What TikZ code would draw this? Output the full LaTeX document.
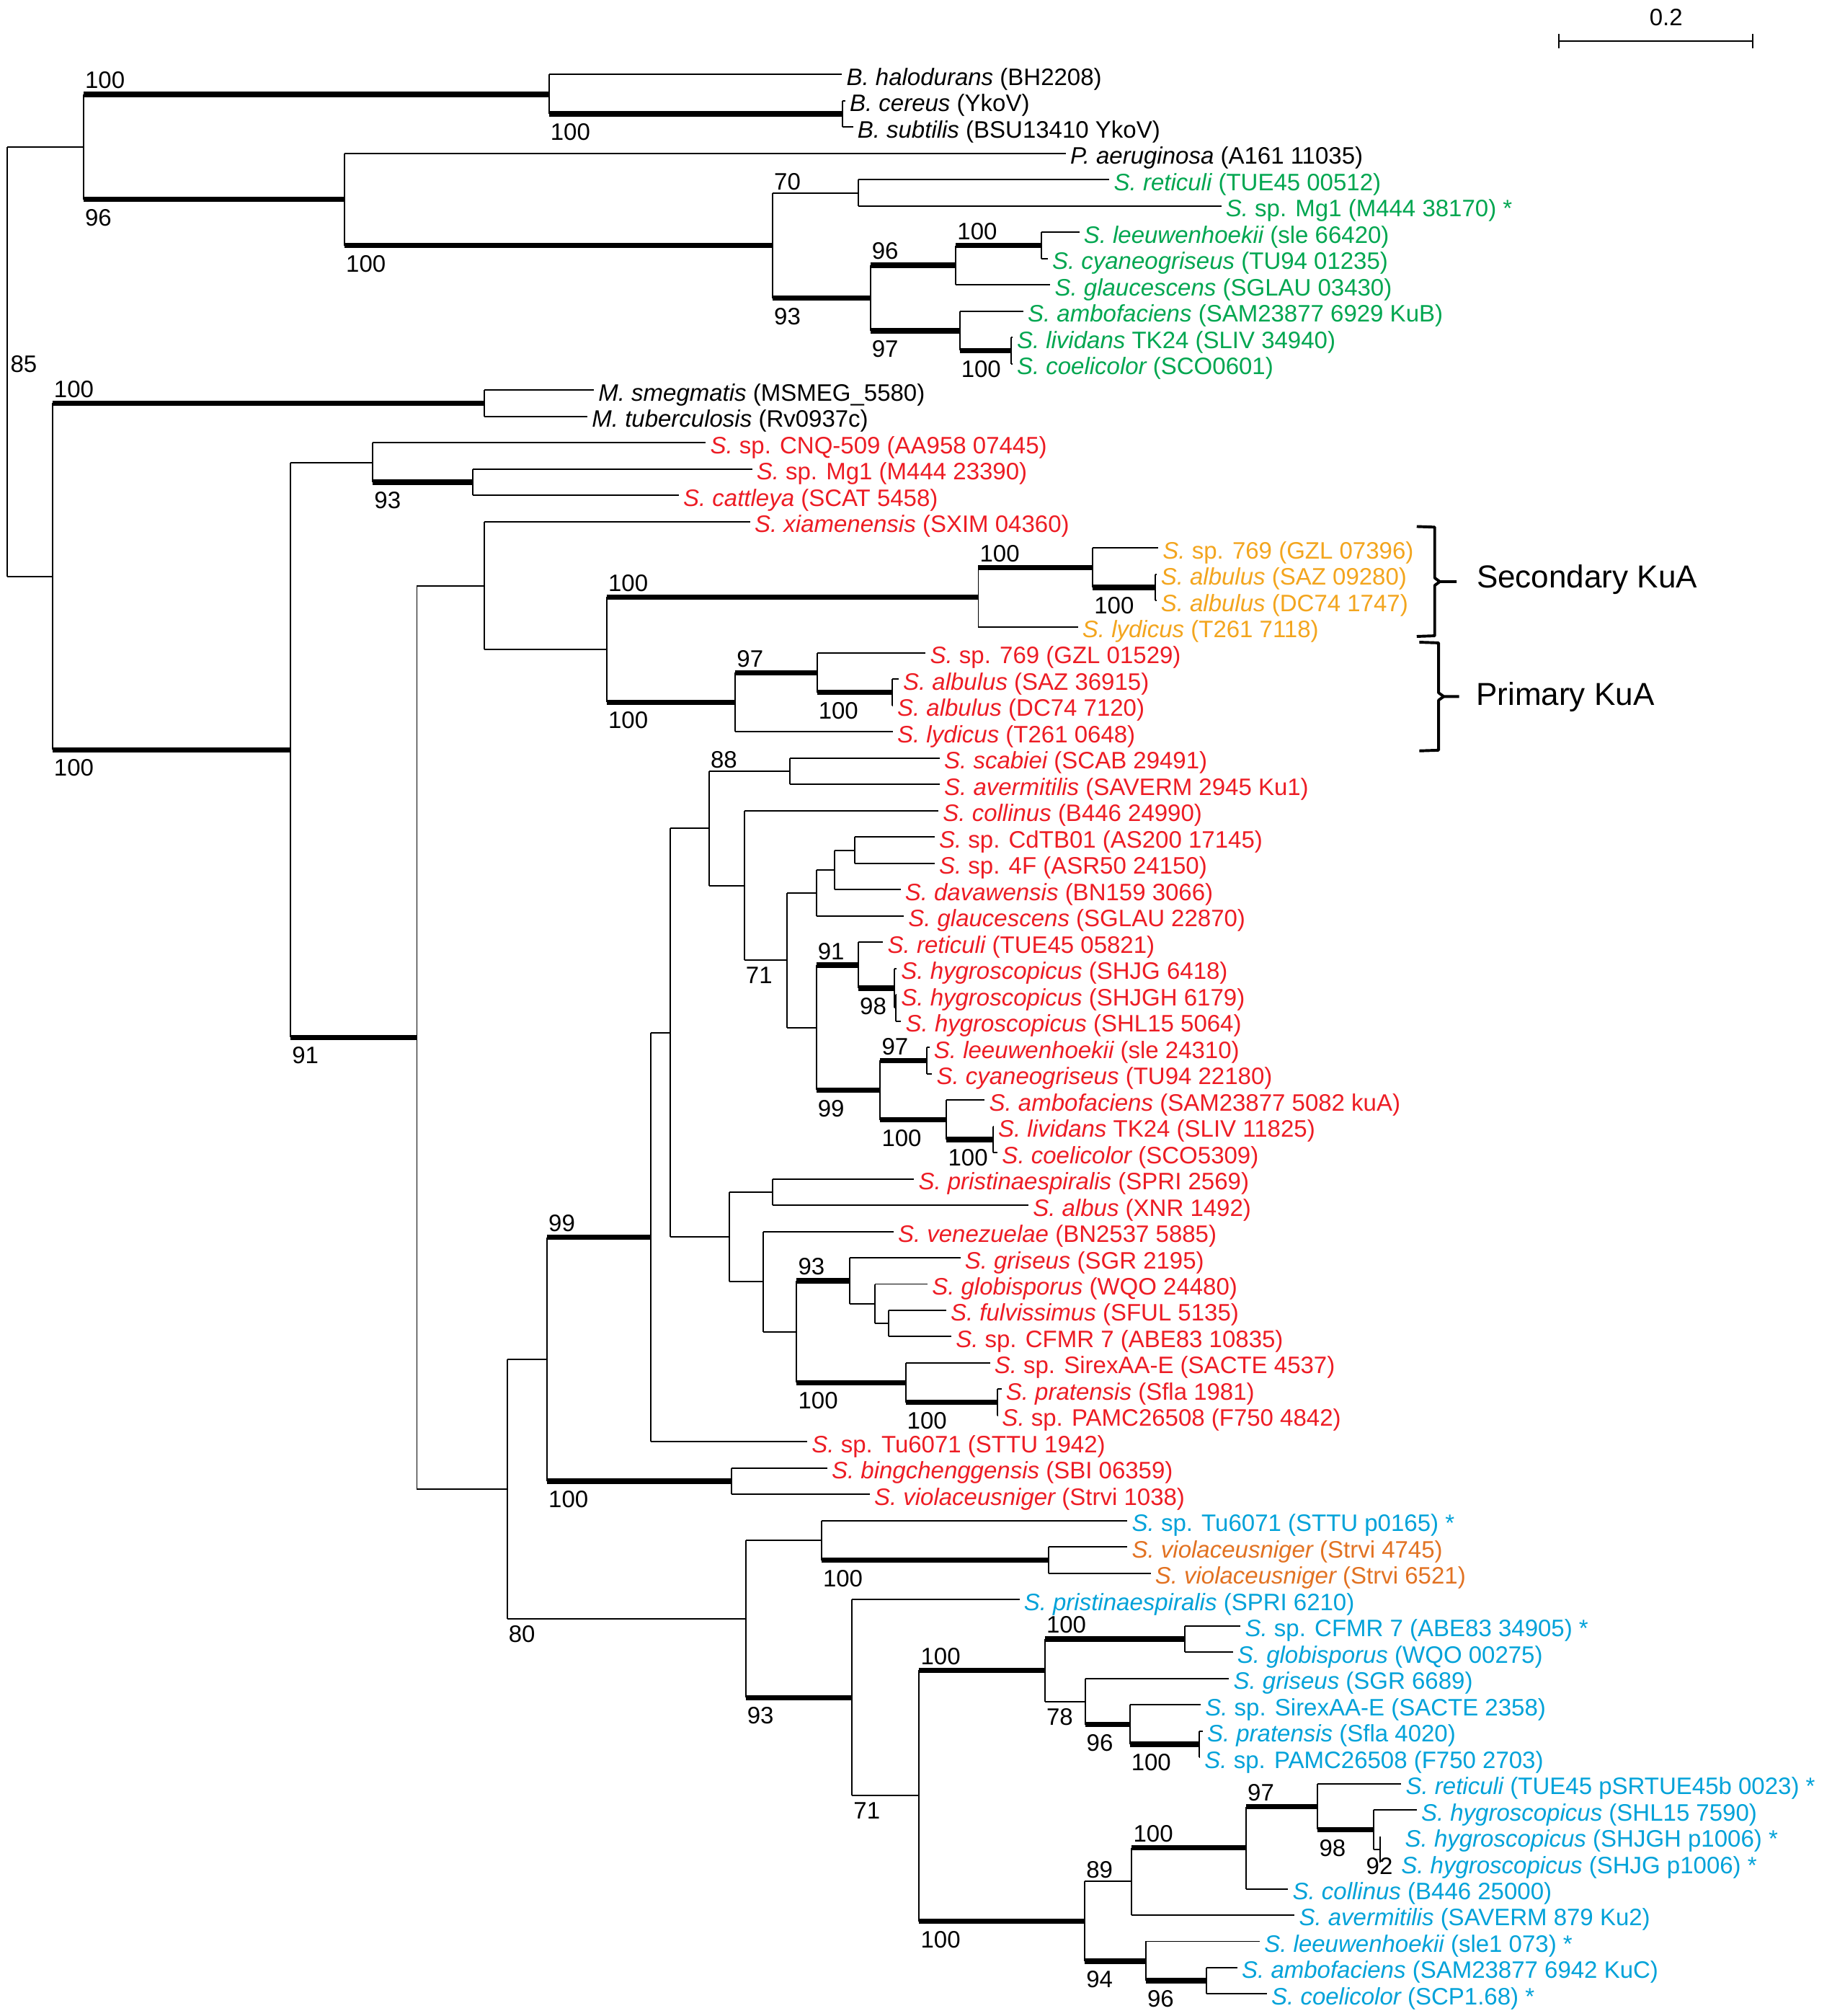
\documentclass[tikz,border=0pt]{standalone}
\usepackage{fontspec}
\setmainfont{Liberation Sans}
\usetikzlibrary{calc}
\definecolor{kgreen}{RGB}{0,166,80}
\definecolor{kred}{RGB}{237,28,36}
\definecolor{korange}{RGB}{243,165,30}
\definecolor{kbrown}{RGB}{226,114,34}
\definecolor{kcyan}{RGB}{0,162,217}
\newcommand{\yL}[1]{37.55+20.45*(#1)}
\newcommand{\mkleaf}[4]{\coordinate (l#1) at (#2,{\yL{#1}});\node[lab,text=#3] (t#1) at (l#1) {#4};}
\newcommand{\mknode}[3]{\coordinate (#1) at (#2,{\yL{#3}});}
\newcommand{\tvl}[3]{\draw[brn] (#1 |- #2) -- (#1 |- #3);}
\newcommand{\thb}[2]{\draw[brn] (#1 |- #2) -- (#2);}
\newcommand{\thB}[2]{\draw[brt] (#1 |- #2) -- (#2);}
\newcommand{\tbs}[5]{\node[#1] (#2) at (#3 |- #4) {#5};}
\newcommand{\Sx}[1]{{\itshape S. #1}}
\newcommand{\It}[1]{{\itshape #1}}
\begin{document}
\begin{tikzpicture}[x=1pt,y=-1pt,
  lfont/.style={font=\fontsize{18.5}{20}\selectfont},
  lab/.style={lfont,anchor=base west,inner sep=0pt,outer sep=0pt,xshift=3.5pt,yshift=-8.4pt},
  brn/.style={line width=1.1pt,black},
  brt/.style={line width=4.2pt,black},
  bA/.style={lfont,anchor=base west,inner sep=0pt,xshift=1pt,yshift=4.5pt},
  ba/.style={lfont,anchor=base west,inner sep=0pt,xshift=1pt,yshift=2.5pt},
  bB/.style={lfont,anchor=base west,inner sep=0pt,xshift=1pt,yshift=-20.5pt},
  bb/.style={lfont,anchor=base west,inner sep=0pt,xshift=1pt,yshift=-18.2pt},
  brc/.style={line width=2.2pt,black,line join=round}]
\fill[white] (0,0) rectangle (1424.5,1568);
\useasboundingbox (0,0) rectangle (1424.5,1568);
% ---------------- leaves
\mkleaf{1}{655}{black}{\It{B. halodurans} (BH2208)}
\mkleaf{2}{657.5}{black}{\It{B. cereus} (YkoV)}
\mkleaf{3}{663.5}{black}{\It{B. subtilis} (BSU13410 YkoV)}
\mkleaf{4}{829}{black}{\It{P. aeruginosa} (A161 11035)}
\mkleaf{5}{863}{kgreen}{\Sx{reticuli} (TUE45 00512)}
\mkleaf{6}{950}{kgreen}{\It{S.} sp. Mg1 (M444 38170) *}
\mkleaf{7}{839.5}{kgreen}{\Sx{leeuwenhoekii} (sle 66420)}
\mkleaf{8}{815}{kgreen}{\Sx{cyaneogriseus} (TU94 01235)}
\mkleaf{9}{817}{kgreen}{\Sx{glaucescens} (SGLAU 03430)}
\mkleaf{10}{796}{kgreen}{\Sx{ambofaciens} (SAM23877 6929 KuB)}
\mkleaf{11}{787.5}{kgreen}{\Sx{lividans} TK24 (SLIV 34940)}
\mkleaf{12}{787.5}{kgreen}{\Sx{coelicolor} (SCO0601)}
\mkleaf{13}{462}{black}{\It{M. smegmatis} (MSMEG\_5580)}
\mkleaf{14}{457}{black}{\It{M. tuberculosis} (Rv0937c)}
\mkleaf{15}{549}{kred}{\It{S.} sp. CNQ-509 (AA958 07445)}
\mkleaf{16}{585}{kred}{\It{S.} sp. Mg1 (M444 23390)}
\mkleaf{17}{528}{kred}{\Sx{cattleya} (SCAT 5458)}
\mkleaf{18}{583.5}{kred}{\Sx{xiamenensis} (SXIM 04360)}
\mkleaf{19}{901}{korange}{\It{S.} sp. 769 (GZL 07396)}
\mkleaf{20}{899.5}{korange}{\Sx{albulus} (SAZ 09280)}
\mkleaf{21}{899.5}{korange}{\Sx{albulus} (DC74 1747)}
\mkleaf{22}{838.5}{korange}{\Sx{lydicus} (T261 7118)}
\mkleaf{23}{720}{kred}{\It{S.} sp. 769 (GZL 01529)}
\mkleaf{24}{699}{kred}{\Sx{albulus} (SAZ 36915)}
\mkleaf{25}{694.5}{kred}{\Sx{albulus} (DC74 7120)}
\mkleaf{26}{694.5}{kred}{\Sx{lydicus} (T261 0648)}
\mkleaf{27}{731}{kred}{\Sx{scabiei} (SCAB 29491)}
\mkleaf{28}{731}{kred}{\Sx{avermitilis} (SAVERM 2945 Ku1)}
\mkleaf{29}{730}{kred}{\Sx{collinus} (B446 24990)}
\mkleaf{30}{727}{kred}{\It{S.} sp. CdTB01 (AS200 17145)}
\mkleaf{31}{727}{kred}{\It{S.} sp. 4F (ASR50 24150)}
\mkleaf{32}{700.5}{kred}{\Sx{davawensis} (BN159 3066)}
\mkleaf{33}{703}{kred}{\Sx{glaucescens} (SGLAU 22870)}
\mkleaf{34}{687}{kred}{\Sx{reticuli} (TUE45 05821)}
\mkleaf{35}{697.5}{kred}{\Sx{hygroscopicus} (SHJG 6418)}
\mkleaf{36}{697.5}{kred}{\Sx{hygroscopicus} (SHJGH 6179)}
\mkleaf{37}{701}{kred}{\Sx{hygroscopicus} (SHL15 5064)}
\mkleaf{38}{723}{kred}{\Sx{leeuwenhoekii} (sle 24310)}
\mkleaf{39}{725}{kred}{\Sx{cyaneogriseus} (TU94 22180)}
\mkleaf{40}{766}{kred}{\Sx{ambofaciens} (SAM23877 5082 kuA)}
\mkleaf{41}{773}{kred}{\Sx{lividans} TK24 (SLIV 11825)}
\mkleaf{42}{776}{kred}{\Sx{coelicolor} (SCO5309)}
\mkleaf{43}{711}{kred}{\Sx{pristinaespiralis} (SPRI 2569)}
\mkleaf{44}{800}{kred}{\Sx{albus} (XNR 1492)}
\mkleaf{45}{695}{kred}{\Sx{venezuelae} (BN2537 5885)}
\mkleaf{46}{747}{kred}{\Sx{griseus} (SGR 2195)}
\mkleaf{47}{721.5}{kred}{\Sx{globisporus} (WQO 24480)}
\mkleaf{48}{736}{kred}{\Sx{fulvissimus} (SFUL 5135)}
\mkleaf{49}{740}{kred}{\It{S.} sp. CFMR 7 (ABE83 10835)}
\mkleaf{50}{770}{kred}{\It{S.} sp. SirexAA-E (SACTE 4537)}
\mkleaf{51}{779}{kred}{\Sx{pratensis} (Sfla 1981)}
\mkleaf{52}{776}{kred}{\It{S.} sp. PAMC26508 (F750 4842)}
\mkleaf{53}{628}{kred}{\It{S.} sp. Tu6071 (STTU 1942)}
\mkleaf{54}{643.5}{kred}{\Sx{bingchenggensis} (SBI 06359)}
\mkleaf{55}{676.5}{kred}{\Sx{violaceusniger} (Strvi 1038)}
\mkleaf{56}{877}{kcyan}{\It{S.} sp. Tu6071 (STTU p0165) *}
\mkleaf{57}{877}{kbrown}{\Sx{violaceusniger} (Strvi 4745)}
\mkleaf{58}{895}{kbrown}{\Sx{violaceusniger} (Strvi 6521)}
\mkleaf{59}{793}{kcyan}{\Sx{pristinaespiralis} (SPRI 6210)}
\mkleaf{60}{965}{kcyan}{\It{S.} sp. CFMR 7 (ABE83 34905) *}
\mkleaf{61}{959}{kcyan}{\Sx{globisporus} (WQO 00275)}
\mkleaf{62}{956}{kcyan}{\Sx{griseus} (SGR 6689)}
\mkleaf{63}{934}{kcyan}{\It{S.} sp. SirexAA-E (SACTE 2358)}
\mkleaf{64}{935.5}{kcyan}{\Sx{pratensis} (Sfla 4020)}
\mkleaf{65}{933.5}{kcyan}{\It{S.} sp. PAMC26508 (F750 2703)}
\mkleaf{66}{1090}{kcyan}{\Sx{reticuli} (TUE45 pSRTUE45b 0023) *}
\mkleaf{67}{1102}{kcyan}{\Sx{hygroscopicus} (SHL15 7590)}
\mkleaf{68}{1089.5}{kcyan}{\Sx{hygroscopicus} (SHJGH p1006) *}
\mkleaf{69}{1086.5}{kcyan}{\Sx{hygroscopicus} (SHJG p1006) *}
\mkleaf{70}{1002}{kcyan}{\Sx{collinus} (B446 25000)}
\mkleaf{71}{1007}{kcyan}{\Sx{avermitilis} (SAVERM 879 Ku2)}
\mkleaf{72}{980}{kcyan}{\Sx{leeuwenhoekii} (sle1 073) *}
\mkleaf{73}{962.5}{kcyan}{\Sx{ambofaciens} (SAM23877 6942 KuC)}
\mkleaf{74}{985.5}{kcyan}{\Sx{coelicolor} (SCP1.68) *}
% ---------------- internal nodes
\mknode{Rt}{5.4}{11.921}
\mknode{A}{65}{3.75}
\mknode{Nbac}{427}{1.75}
\mknode{Ncer}{655.5}{2.5}
\mknode{B}{268}{5.75}
\mknode{C}{601}{7.5}
\mknode{D}{667.5}{5.5}
\mknode{E}{677}{9.5}
\mknode{F}{743.5}{8.25}
\mknode{Fa}{810}{7.5}
\mknode{G}{746.5}{10.75}
\mknode{Ga}{786.5}{11.5}
\mknode{H}{40.8}{20.0922}
\mknode{M}{376.8}{13.5}
\mknode{I}{226}{26.6843}
\mknode{J}{290}{15.75}
\mknode{Ja}{368}{16.5}
\mknode{K}{324.3}{37.6187}
\mknode{L}{376.5}{20.4375}
\mknode{Lb}{472}{22.875}
\mknode{Lc}{761}{20.875}
\mknode{Le}{850}{19.75}
\mknode{Lf}{898.5}{20.5}
\mknode{Ld}{572}{24.875}
\mknode{Lg}{635.5}{23.75}
\mknode{Lh}{694}{24.5}
\mknode{P}{394.5}{54.7998}
\mknode{Q}{425.5}{49.859375}
\mknode{S}{506}{45.21875}
\mknode{T}{569}{54.5}
\mknode{U}{521.5}{37.4375}
\mknode{V}{551.6}{29.671875}
\mknode{Va}{614.6}{27.5}
\mknode{Vb}{579}{31.84375}
\mknode{Vc}{612.2}{34.6875}
\mknode{Vd}{635}{32.125}
\mknode{Ve}{649}{31.25}
\mknode{Vf}{664.7}{30.5}
\mknode{Vg}{635}{37.25}
\mknode{Vh}{667.7}{34.875}
\mknode{Vi}{695.7}{35.75}
\mknode{Vj}{697}{36.5}
\mknode{Vk}{684.7}{39.625}
\mknode{Vl}{720.7}{38.5}
\mknode{Vm}{736.3}{40.75}
\mknode{Vn}{772.3}{41.5}
\mknode{W}{567.4}{45.203125}
\mknode{Wa}{601.2}{43.5}
\mknode{Wb}{593.8}{46.90625}
\mknode{Wc}{619.7}{48.8125}
\mknode{Wd}{660.7}{46.875}
\mknode{We}{680.6}{47.75}
\mknode{Wf}{691.2}{48.5}
\mknode{Wg}{704.4}{50.75}
\mknode{Wh}{775.8}{51.5}
\mknode{R}{580}{59.740234}
\mknode{Ra}{639}{56.75}
\mknode{Rb}{815.6}{57.5}
\mknode{Rc}{662.8}{62.730469}
\mknode{Rd}{715}{66.460938}
\mknode{Re}{812.8}{61.6875}
\mknode{Rf}{921.5}{60.5}
\mknode{Rg}{844}{62.875}
\mknode{Rh}{878.8}{63.75}
\mknode{Ri}{932.6}{64.5}
\mknode{Rj}{843.8}{71.234375}
\mknode{Rk}{880.4}{69.71875}
\mknode{Rl}{969.3}{68.4375}
\mknode{Rm}{1025}{66.875}
\mknode{Rn}{1068.3}{67.75}
\mknode{Ro}{1073.3}{68.5}
\mknode{Rp}{891.3}{72.75}
\mknode{Rq}{938.6}{73.5}
% ---------------- branches
\tvl{Rt}{A}{H}\thb{Rt}{A}\thb{Rt}{H}
\tvl{A}{Nbac}{B}\thB{A}{Nbac}\thB{A}{B}
\tvl{Nbac}{l1}{Ncer}\thb{Nbac}{l1}\thB{Nbac}{Ncer}
\tvl{Ncer}{l2}{l3}\thb{Ncer}{l2}\thb{Ncer}{l3}
\tvl{B}{l4}{C}\thb{B}{l4}\thB{B}{C}
\tvl{C}{D}{E}\thb{C}{D}\thB{C}{E}
\tvl{D}{l5}{l6}\thb{D}{l5}\thb{D}{l6}
\tvl{E}{F}{G}\thB{E}{F}\thB{E}{G}
\tvl{F}{Fa}{l9}\thB{F}{Fa}\thb{F}{l9}
\tvl{Fa}{l7}{l8}\thb{Fa}{l7}\thb{Fa}{l8}
\tvl{G}{l10}{Ga}\thb{G}{l10}\thB{G}{Ga}
\tvl{Ga}{l11}{l12}\thb{Ga}{l11}\thb{Ga}{l12}
\tvl{H}{M}{I}\thB{H}{M}\thB{H}{I}
\tvl{M}{l13}{l14}\thb{M}{l13}\thb{M}{l14}
\tvl{I}{J}{K}\thb{I}{J}\thB{I}{K}
\tvl{J}{l15}{Ja}\thb{J}{l15}\thB{J}{Ja}
\tvl{Ja}{l16}{l17}\thb{Ja}{l16}\thb{Ja}{l17}
\tvl{K}{L}{P}\thb{K}{L}\thb{K}{P}
\tvl{L}{l18}{Lb}\thb{L}{l18}\thb{L}{Lb}
\tvl{Lb}{Lc}{Ld}\thB{Lb}{Lc}\thB{Lb}{Ld}
\tvl{Lc}{Le}{l22}\thB{Lc}{Le}\thb{Lc}{l22}
\tvl{Le}{l19}{Lf}\thb{Le}{l19}\thB{Le}{Lf}
\tvl{Lf}{l20}{l21}\thb{Lf}{l20}\thb{Lf}{l21}
\tvl{Ld}{Lg}{l26}\thB{Ld}{Lg}\thb{Ld}{l26}
\tvl{Lg}{l23}{Lh}\thb{Lg}{l23}\thB{Lg}{Lh}
\tvl{Lh}{l24}{l25}\thb{Lh}{l24}\thb{Lh}{l25}
\tvl{P}{Q}{R}\thb{P}{Q}\thb{P}{R}
\tvl{Q}{S}{T}\thB{Q}{S}\thB{Q}{T}
\tvl{T}{l54}{l55}\thb{T}{l54}\thb{T}{l55}
\tvl{S}{U}{l53}\thb{S}{U}\thb{S}{l53}
\tvl{U}{V}{W}\thb{U}{V}\thb{U}{W}
\tvl{V}{Va}{Vb}\thb{V}{Va}\thb{V}{Vb}
\tvl{Va}{l27}{l28}\thb{Va}{l27}\thb{Va}{l28}
\tvl{Vb}{l29}{Vc}\thb{Vb}{l29}\thb{Vb}{Vc}
\tvl{Vc}{Vd}{Vg}\thb{Vc}{Vd}\thb{Vc}{Vg}
\tvl{Vd}{Ve}{l33}\thb{Vd}{Ve}\thb{Vd}{l33}
\tvl{Ve}{Vf}{l32}\thb{Ve}{Vf}\thb{Ve}{l32}
\tvl{Vf}{l30}{l31}\thb{Vf}{l30}\thb{Vf}{l31}
\tvl{Vg}{Vh}{Vk}\thB{Vg}{Vh}\thB{Vg}{Vk}
\tvl{Vh}{l34}{Vi}\thb{Vh}{l34}\thB{Vh}{Vi}
\tvl{Vi}{l35}{Vj}\thb{Vi}{l35}\thb{Vi}{Vj}
\tvl{Vj}{l36}{l37}\thb{Vj}{l36}\thb{Vj}{l37}
\tvl{Vk}{Vl}{Vm}\thB{Vk}{Vl}\thB{Vk}{Vm}
\tvl{Vl}{l38}{l39}\thb{Vl}{l38}\thb{Vl}{l39}
\tvl{Vm}{l40}{Vn}\thb{Vm}{l40}\thB{Vm}{Vn}
\tvl{Vn}{l41}{l42}\thb{Vn}{l41}\thb{Vn}{l42}
\tvl{W}{Wa}{Wb}\thb{W}{Wa}\thb{W}{Wb}
\tvl{Wa}{l43}{l44}\thb{Wa}{l43}\thb{Wa}{l44}
\tvl{Wb}{l45}{Wc}\thb{Wb}{l45}\thb{Wb}{Wc}
\tvl{Wc}{Wd}{Wg}\thB{Wc}{Wd}\thB{Wc}{Wg}
\tvl{Wd}{l46}{We}\thb{Wd}{l46}\thb{Wd}{We}
\tvl{We}{l47}{Wf}\thb{We}{l47}\thb{We}{Wf}
\tvl{Wf}{l48}{l49}\thb{Wf}{l48}\thb{Wf}{l49}
\tvl{Wg}{l50}{Wh}\thb{Wg}{l50}\thB{Wg}{Wh}
\tvl{Wh}{l51}{l52}\thb{Wh}{l51}\thb{Wh}{l52}
\tvl{R}{Ra}{Rc}\thb{R}{Ra}\thB{R}{Rc}
\tvl{Ra}{l56}{Rb}\thb{Ra}{l56}\thB{Ra}{Rb}
\tvl{Rb}{l57}{l58}\thb{Rb}{l57}\thb{Rb}{l58}
\tvl{Rc}{l59}{Rd}\thb{Rc}{l59}\thb{Rc}{Rd}
\tvl{Rd}{Re}{Rj}\thB{Rd}{Re}\thB{Rd}{Rj}
\tvl{Re}{Rf}{Rg}\thB{Re}{Rf}\thb{Re}{Rg}
\tvl{Rf}{l60}{l61}\thb{Rf}{l60}\thb{Rf}{l61}
\tvl{Rg}{l62}{Rh}\thb{Rg}{l62}\thB{Rg}{Rh}
\tvl{Rh}{l63}{Ri}\thb{Rh}{l63}\thB{Rh}{Ri}
\tvl{Ri}{l64}{l65}\thb{Ri}{l64}\thb{Ri}{l65}
\tvl{Rj}{Rk}{Rp}\thb{Rj}{Rk}\thB{Rj}{Rp}
\tvl{Rk}{Rl}{l71}\thB{Rk}{Rl}\thb{Rk}{l71}
\tvl{Rl}{Rm}{l70}\thB{Rl}{Rm}\thb{Rl}{l70}
\tvl{Rm}{l66}{Rn}\thb{Rm}{l66}\thB{Rm}{Rn}
\tvl{Rn}{l67}{Ro}\thb{Rn}{l67}\thb{Rn}{Ro}
\tvl{Ro}{l68}{l69}
\tvl{Rp}{l72}{Rq}\thb{Rp}{l72}\thB{Rp}{Rq}
\tvl{Rq}{l73}{l74}\thb{Rq}{l73}\thb{Rq}{l74}
% ---------------- bootstrap values
\tbs{bA}{b1}{A}{Nbac}{100}
\tbs{bB}{b2}{Nbac}{Ncer}{100}
\tbs{bB}{b3}{A}{B}{96}
\tbs{bB}{b4}{B}{C}{100}
\tbs{ba}{b5}{C}{D}{70}
\tbs{bB}{b6}{C}{E}{93}
\tbs{bA}{b7}{E}{F}{96}
\tbs{bB}{b8}{E}{G}{97}
\tbs{bA}{b9}{F}{Fa}{100}
\tbs{bB}{b10}{G}{Ga}{100}
\node[lfont,anchor=base west,inner sep=0pt] (b11) at (8,289.6) {85};
\tbs{bA}{b12}{H}{M}{100}
\tbs{bB}{b13}{H}{I}{100}
\tbs{bB}{b14}{J}{Ja}{93}
\tbs{bB}{b15}{I}{K}{91}
\tbs{bA}{b16}{Lb}{Lc}{100}
\tbs{bB}{b17}{Lb}{Ld}{100}
\tbs{bA}{b18}{Lc}{Le}{100}
\tbs{bB}{b19}{Le}{Lf}{100}
\tbs{bA}{b20}{Ld}{Lg}{97}
\tbs{bB}{b21}{Lg}{Lh}{100}
\tbs{ba}{b22}{V}{Va}{88}
\tbs{bb}{b23}{Vb}{Vc}{71}
\tbs{bA}{b24}{Vg}{Vh}{91}
\tbs{bB}{b25}{Vh}{Vi}{98}
\tbs{bB}{b26}{Vg}{Vk}{99}
\tbs{bA}{b27}{Vk}{Vl}{97}
\tbs{bB}{b28}{Vk}{Vm}{100}
\tbs{bB}{b29}{Vm}{Vn}{100}
\tbs{bA}{b30}{Q}{S}{99}
\tbs{bB}{b31}{Q}{T}{100}
\tbs{bA}{b32}{Wc}{Wd}{93}
\tbs{bB}{b33}{Wc}{Wg}{100}
\tbs{bB}{b34}{Wg}{Wh}{100}
\tbs{bb}{b35}{P}{R}{80}
\tbs{bB}{b36}{Ra}{Rb}{100}
\tbs{bB}{b37}{R}{Rc}{93}
\tbs{bA}{b38}{Rd}{Re}{100}
\tbs{bA}{b39}{Re}{Rf}{100}
\tbs{bb}{b40}{Re}{Rg}{78}
\tbs{bB}{b41}{Rg}{Rh}{96}
\tbs{bB}{b42}{Rh}{Ri}{100}
\tbs{bb}{b43}{Rc}{Rd}{71}
\tbs{bB}{b44}{Rd}{Rj}{100}
\tbs{ba}{b45}{Rj}{Rk}{89}
\tbs{bA}{b46}{Rk}{Rl}{100}
\tbs{bA}{b47}{Rl}{Rm}{97}
\tbs{bB}{b48}{Rm}{Rn}{98}
\node[lfont,anchor=base east,inner sep=0pt] (b49) at (1083.5,{\yL{68.5}+19.6}) {92};
\tbs{bB}{b50}{Rj}{Rp}{94}
\tbs{bB}{b51}{Rp}{Rq}{96}
% ---------------- scale bar
\coordinate (sb1) at (1212.3,32.1);
\coordinate (sb2) at (1363.6,32.1);
\draw[brn] (sb1) -- (sb2);
\draw[brn] ([yshift=5.6pt]sb1) -- ([yshift=-5.6pt]sb1);
\draw[brn] ([yshift=5.6pt]sb2) -- ([yshift=-5.6pt]sb2);
\node[lfont,inner sep=0pt,anchor=base] (sbl) at (1296,19.7) {0.2};
% ---------------- brackets
\draw[brc] (1102,409.5) -- (1116,410) -- (1116,449.5) -- (1120,452.4) -- (1133,452.4);
\draw[brc] (1120,452.4) -- (1116,455.3) -- (1116,494.5) -- (1102,495);
\draw[brc] (1104,499.5) -- (1119,500) -- (1119,538.8) -- (1123,541.7) -- (1135,541.7);
\draw[brc] (1123,541.7) -- (1119,544.6) -- (1119,583.5) -- (1104,584);
\node[font=\fontsize{24.7}{26}\selectfont,anchor=base west,inner sep=0pt] (sec) at (1148.5,457.1) {Secondary KuA};
\node[font=\fontsize{24.7}{26}\selectfont,anchor=base west,inner sep=0pt] (pri) at (1148,548.7) {Primary KuA};
\end{tikzpicture}
\end{document}
